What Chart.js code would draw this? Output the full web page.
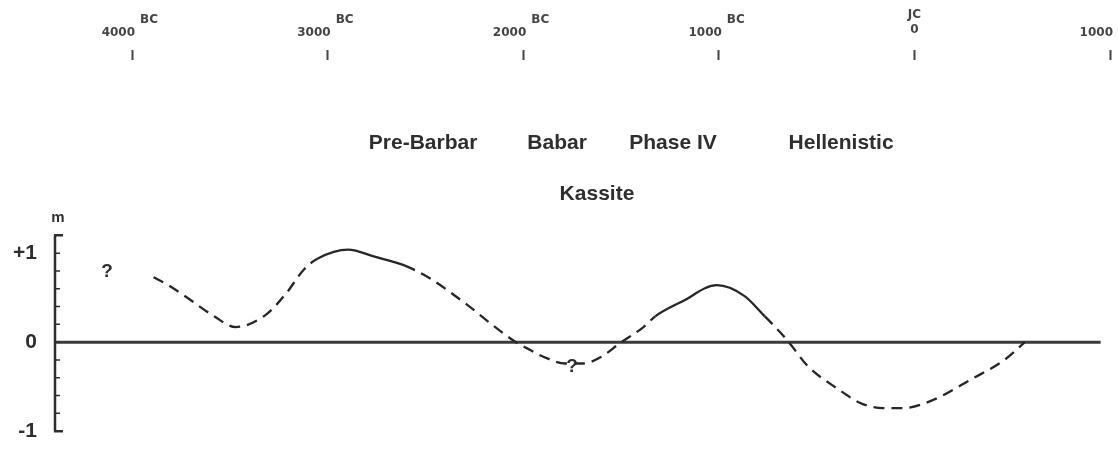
<!DOCTYPE html>
<html>
<head>
<meta charset="utf-8">
<script src="https://cdn.jsdelivr.net/npm/chart.js@4/dist/chart.umd.min.js"></script>
<style>
html, body { margin: 0; padding: 0; background: #fff; }
#wrap { width: 1118px; height: 468px; }
</style>
</head>
<body>
<div id="wrap"><canvas id="sealevel" width="1118" height="468"></canvas></div>
<script>
// sea level curve: year (negative = BC) and level in metres
const years = [-3890, -3815, -3725, -3580, -3470, -3315, -3215, -3120, -3050, -2895,
    -2760, -2605, -2480, -2305, -2155, -2045, -1980, -1880, -1785, -1695,
    -1605, -1505, -1385, -1325, -1185, -1010, -870, -765, -690, -635,
    -545, -395, -270, -160, -55, 95, 280, 460, 565];
const level = [0.73, 0.64, 0.51, 0.29, 0.17, 0.31, 0.54, 0.82, 0.94, 1.04,
    0.96, 0.86, 0.72, 0.45, 0.19, 0.01, -0.07, -0.18, -0.24, -0.24,
    -0.17, -0.01, 0.17, 0.29, 0.46, 0.64, 0.52, 0.29, 0.12, -0.02,
    -0.27, -0.52, -0.69, -0.74, -0.74, -0.65, -0.43, -0.20, 0.0];

// parts of the curve drawn solid, the rest is dashed
const solidFrom = [-3050, -1325];
const solidTo = [-2605, -765];

// zero line
const baseYears = [-4394, 952];
const baseLevel = [0, 0];

// time axis on top
const topTickYears = [-4000, -3000, -2000, -1000, 0, 1000];
const topTickLabels = ['4000', '3000', '2000', '1000', '0', '1000'];
const topTickEras = ['BC', 'BC', 'BC', 'BC', 'JC', ''];

// level axis
const yTickValues = [-1, 0, 1];
const yTickLabels = ['-1', '0', '+1'];
const yMinorTicks = [-1, -0.8, -0.6, -0.4, -0.2, 0, 0.2, 0.4, 0.6, 0.8, 1, 1.2];

const periods = ['Pre-Barbar', 'Babar', 'Phase IV', 'Hellenistic', 'Kassite'];

const INK = '#2e2e2e';

const isSolid = (a, b) => solidFrom.some((s, i) => a >= s && b <= solidTo[i]);

// axis spine, top labels and period names
const decor = {
    id: 'decor',
    afterDatasetsDraw(chart, args, opts) {
        const ctx = chart.ctx;
        const x = chart.scales.x;
        const y = chart.scales.y;
        const left = chart.chartArea.left;
        ctx.save();
        ctx.strokeStyle = INK;
        ctx.fillStyle = INK;

        // y spine with bracket ends
        const yLo = y.getPixelForValue(yMinorTicks[0]);
        const yHi = y.getPixelForValue(yMinorTicks[yMinorTicks.length - 1]);
        ctx.lineWidth = 2.5;
        ctx.beginPath();
        ctx.moveTo(left, yLo);
        ctx.lineTo(left, yHi);
        ctx.moveTo(left - 1, yLo);
        ctx.lineTo(left + 8, yLo);
        ctx.moveTo(left - 1, yHi);
        ctx.lineTo(left + 8, yHi);
        ctx.stroke();
        ctx.lineWidth = 1.5;
        ctx.beginPath();
        yMinorTicks.forEach(v => {
            const py = y.getPixelForValue(v);
            ctx.moveTo(left, py);
            ctx.lineTo(left + 5, py);
        });
        ctx.stroke();

        ctx.textBaseline = 'middle';
        ctx.font = "bold 15px 'Liberation Sans'";
        ctx.textAlign = 'center';
        ctx.fillText('m', left + 3, y.getPixelForValue(opts.unitAt));

        // top time labels
        ctx.fillStyle = '#444';
        ctx.font = "bold 12px 'DejaVu Sans'";
        topTickYears.forEach((yr, i) => {
            const px = x.getPixelForValue(yr);
            if (topTickEras[i] === 'JC') {
                ctx.textAlign = 'center';
                ctx.fillText(topTickLabels[i], px, 30);
                ctx.fillText(topTickEras[i], px, 15);
            } else {
                ctx.textAlign = 'right';
                ctx.fillText(topTickLabels[i], px + 3, 33);
                ctx.textAlign = 'left';
                ctx.fillText(topTickEras[i], px + 8, 20);
            }
        });

        // period names
        ctx.fillStyle = INK;
        ctx.textAlign = 'center';
        ctx.font = "bold 21px 'Liberation Sans'";
        periods.forEach((p, i) => {
            const at = opts.periodAt[i];
            ctx.fillText(p, x.getPixelForValue(at[0]), y.getPixelForValue(at[1]));
        });

        ctx.font = "bold 19px 'Liberation Sans'";
        opts.queryAt.forEach(at => {
            ctx.fillText('?', x.getPixelForValue(at[0]), y.getPixelForValue(at[1]));
        });
        ctx.restore();
    }
};

const data = {
    datasets: [{
        label: 'sea level',
        data: years.map((yr, i) => ({ x: yr, y: level[i] })),
        borderColor: '#262626',
        borderWidth: 2.3,
        pointRadius: 0,
        cubicInterpolationMode: 'monotone',
        segment: {
            borderDash: ctx => isSolid(ctx.p0.parsed.x, ctx.p1.parsed.x) ? [] : [11, 7]
        }
    }, {
        label: 'zero',
        data: baseYears.map((yr, i) => ({ x: yr, y: baseLevel[i] })),
        borderColor: '#3a3a3a',
        borderWidth: 3,
        pointRadius: 0
    }]
};

const config = {
    type: 'line',
    data: data,
    options: {
        responsive: false,
        animation: false,
        devicePixelRatio: 1,
        layout: { padding: { top: 50, right: 8, bottom: 5, left: 0 } },
        plugins: {
            legend: { display: false },
            tooltip: { enabled: false },
            decor: {
                unitAt: 1.4,
                periodAt: [[-2512, 2.24], [-1827, 2.24], [-1234, 2.24], [-375, 2.24], [-1623, 1.665]],
                queryAt: [[-4128, 0.79], [-1750, -0.28]]
            }
        },
        scales: {
            x: {
                type: 'linear',
                position: 'top',
                min: -4394,
                max: 1000,
                afterBuildTicks: s => { s.ticks = topTickYears.map(v => ({ value: v })); },
                ticks: { display: false },
                grid: { drawOnChartArea: false, drawTicks: true, tickLength: 10, tickWidth: 2, tickColor: '#444' },
                border: { display: false }
            },
            y: {
                type: 'linear',
                min: -1.07,
                max: 3.17,
                afterBuildTicks: s => { s.ticks = yTickValues.map(v => ({ value: v })); },
                afterFit: s => { s.width = 55; },
                ticks: {
                    padding: 18,
                    color: INK,
                    font: { family: 'Liberation Sans', size: 21, weight: 'bold' },
                    callback: v => yTickLabels[yTickValues.indexOf(v)]
                },
                grid: { display: false, drawTicks: false },
                border: { display: false }
            }
        }
    },
    plugins: [decor]
};

const chart = new Chart(document.getElementById('sealevel'), config);
</script>
</body>
</html>
